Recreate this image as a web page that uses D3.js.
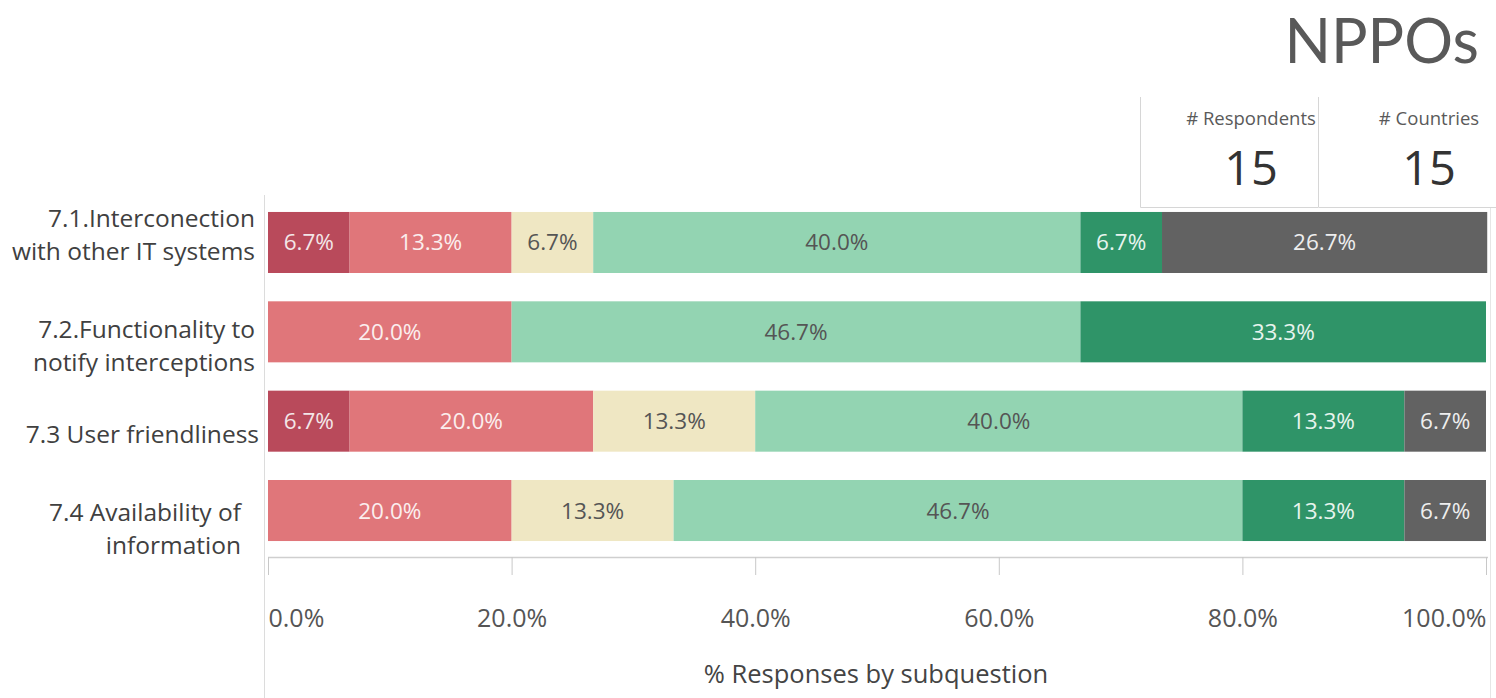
<!DOCTYPE html>
<html><head><meta charset="utf-8">
<script src="https://cdn.jsdelivr.net/npm/d3@7"></script>
<style>body{margin:0;background:#fff;}svg{display:block;}</style>
</head><body>
<svg id="chart" width="1496" height="698"></svg>
<script>
const categories = [
  ["7.1.Interconection", "with other IT systems"],
  ["7.2.Functionality to", "notify interceptions"],
  ["7.3 User friendliness"],
  ["7.4 Availability of", "information"]
];
const seriesNames = ["Very poor", "Poor", "Neutral", "Good", "Very good", "Don't know"];
const seriesColors = ["#b94a5b", "#e0767a", "#efe7c3", "#93d4b2", "#2f9468", "#626262"];
const labelColors = ["#f3e6e8", "#fbeeee", "#555555", "#555555", "#e8f4ee", "#eeeeee"];
const veryPoor  = [6.7, 0, 6.7, 0];
const poor      = [13.3, 20.0, 20.0, 20.0];
const neutral   = [6.7, 0, 13.3, 13.3];
const good      = [40.0, 46.7, 40.0, 46.7];
const veryGood  = [6.7, 33.3, 13.3, 13.3];
const dontKnow  = [26.7, 0, 6.7, 6.7];
const tickValues = [0, 20, 40, 60, 80, 100];
const title = "NPPOs";
const kpis = [{label: "# Respondents", value: "15"}, {label: "# Countries", value: "15"}];
const axisTitle = "% Responses by subquestion";

const svg = d3.select("#chart");
const font = "'Open Sans', 'Noto Sans', sans-serif";
const seriesVals = [veryPoor, poor, neutral, good, veryGood, dontKnow];
const rows = categories.map((c, i) => {
  const o = {key: i};
  seriesNames.forEach((s, j) => o[s] = seriesVals[j][i]);
  return o;
});
const stack = d3.stack().keys(seriesNames)(rows);

const x = d3.scaleLinear().domain([0, 100]).range([268, 1486]);
const y = d3.scaleBand().domain(d3.range(categories.length)).range([194.1, 558.9]).paddingInner(0.317).paddingOuter(0.2);

// frame lines
svg.append("line").attr("x1", 264.5).attr("x2", 264.5).attr("y1", 195).attr("y2", 698).attr("stroke", "#dcdcdc");
svg.append("line").attr("x1", 1490.5).attr("x2", 1490.5).attr("y1", 208).attr("y2", 698).attr("stroke", "#e6e6e6");

// title
svg.append("text").attr("x", 1479).attr("y", 63).attr("text-anchor", "end")
  .attr("font-family", "Lato, 'Open Sans', sans-serif").attr("font-size", 61).attr("fill", "#595959").text(title);

// KPI boxes
const kpiX = [1140, 1318];
const kg = svg.selectAll("g.kpi").data(kpis).join("g").attr("class", "kpi")
  .attr("transform", (d, i) => `translate(${kpiX[i]},97)`);
kg.append("path").attr("d", "M0.5,0 V110.5 H178").attr("fill", "none").attr("stroke", "#d6d6d6");
kg.append("text").attr("x", 111).attr("y", 125 - 97).attr("text-anchor", "middle")
  .attr("font-family", font).attr("font-size", 18.5).attr("fill", "#5a5a5a").text(d => d.label);
kg.append("text").attr("x", 111).attr("y", 185 - 97).attr("text-anchor", "middle")
  .attr("font-family", font).attr("font-size", 47).attr("fill", "#333").text(d => d.value);

// bars
const layers = svg.append("g").selectAll("g").data(stack).join("g")
  .attr("fill", (d, i) => seriesColors[i]);
layers.selectAll("rect").data(d => d).join("rect")
  .attr("x", d => x(d[0])).attr("width", d => x(d[1]) - x(d[0]))
  .attr("y", (d, i) => y(i)).attr("height", y.bandwidth());

const lbl = svg.append("g").selectAll("g").data(stack).join("g");
lbl.each(function(layer, si) {
  d3.select(this).selectAll("text").data(layer.filter(d => d[1] - d[0] > 0.01).map(d => ({d, i: layer.indexOf(d)})))
    .join("text")
    .attr("x", o => (x(o.d[0]) + x(o.d[1])) / 2)
    .attr("y", o => y(o.i) + y.bandwidth() / 2 + 8)
    .attr("text-anchor", "middle")
    .attr("font-family", font).attr("font-size", 22.5)
    .attr("fill", labelColors[si])
    .text(o => (o.d[1] - o.d[0]).toFixed(1) + "%");
});

// category labels
const catRight = [255, 255, 259, 241];
const catShift = [-8, 14, 13, 18];
categories.forEach((lines, i) => {
  const cy = y(i) + y.bandwidth() / 2 + catShift[i];
  const t = svg.append("text").attr("text-anchor", "end")
    .attr("font-family", font).attr("font-size", 24.5).attr("fill", "#404040");
  lines.forEach((ln, k) => {
    t.append("tspan").attr("x", catRight[i])
      .attr("y", cy + 9 + (k - (lines.length - 1) / 2) * 33).text(ln);
  });
});

// x axis
const axisG = svg.append("g").attr("transform", "translate(0,557)");
axisG.append("line").attr("x1", 268).attr("x2", 1488).attr("y1", 0.5).attr("y2", 0.5).attr("stroke", "#cfcfcf").attr("stroke-width", 1.5);
const axis = d3.axisBottom(x).tickValues(tickValues).tickSize(18).tickSizeOuter(0).tickFormat(d => d.toFixed(1) + "%");
axisG.call(axis);
axisG.select(".domain").remove();
axisG.selectAll(".tick line").attr("stroke", "#c8c8c8");
axisG.selectAll(".tick text")
  .attr("font-family", font).attr("font-size", 25).attr("fill", "#555")
  .attr("y", 70).attr("dy", 0)
  .attr("text-anchor", (d, i) => i === 0 ? "start" : (i === tickValues.length - 1 ? "end" : "middle"));

svg.append("text").attr("x", 876).attr("y", 683).attr("text-anchor", "middle")
  .attr("font-family", font).attr("font-size", 25.5).attr("fill", "#444").text(axisTitle);
</script>
</body></html>
